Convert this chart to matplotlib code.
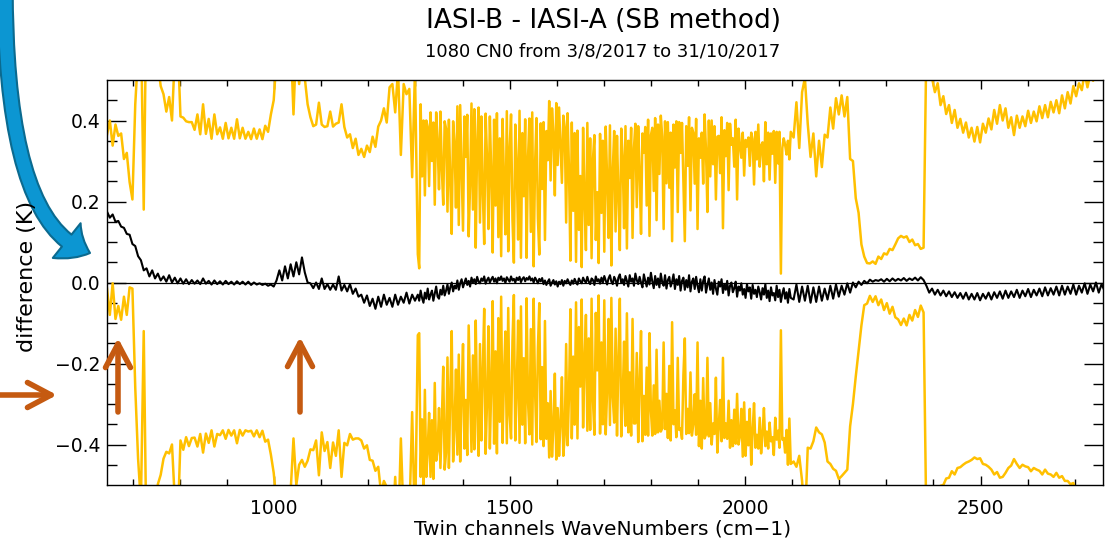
import numpy as np
import matplotlib
matplotlib.use("Agg")
import matplotlib.pyplot as plt
from matplotlib.patches import FancyArrowPatch
from matplotlib.ticker import FuncFormatter

# ========== DATA ==========
# three spectral bands; the noisy water-vapour band is read more finely
band1_start, band1_step = 645, 6     # 645 .. 1299
band2_start, band2_step = 1305, 3    # 1305 .. 2097
band3_start, band3_step = 2103, 6    # 2103 .. 2763

# mean difference IASI-B - IASI-A, in mK
mean1_mK = [
    175, 160, 168, 150, 152, 138, 135, 120, 118, 95,      # 645
    90, 65, 55, 30, 35, 15, 30, 10, 22, 5,                # 705
    15, 2, 18, 0, 12, -2, 10, -3, 8, -4,                  # 765
    6, -3, 5, -4, 10, -3, 4, -5, 5, -4,                   # 825
    3, -5, 4, -4, 2, -5, 3, -4, 2, -5,                    # 885
    2, -6, 0, -5, -2, -6, -3, -8, -5, -10,                # 945
    5, 30, 5, 40, 10, 45, 15, 50, 20, 62,                 # 1005
    25, 0, -2, -14, 0, -16, 10, -16, -4, -18,             # 1065
    -5, -18, 15, -20, -6, -22, -4, -28, -15, -35,         # 1125
    -30, -50, -32, -58, -40, -65, -35, -60, -30, -55,     # 1185
    -38, -60, -30, -55, -35, -50, -25, -52, -30, -45,     # 1245
]
mean2_mK = [
    -30, -45, -20, -38, -50, -25, -40, -15, -42, -30,     # 1305
    -20, -45, -28, -10, -35, -40, -18, -30, -8, -32,      # 1335
    -20, -5, -28, -12, 0, -22, -8, -15, 5, -18,           # 1365
    -2, 8, -12, 0, 10, -6, 4, -10, 12, 0,                 # 1395
    8, -4, 14, 2, -2, 10, 4, 15, -3, 6,                   # 1425
    12, 0, 8, 14, 2, 10, -2, 12, 6, 15,                   # 1455
    4, 10, -1, 13, 7, 2, 15, 5, 9, 0,                     # 1485
    12, 6, 14, 1, 9, 13, 3, 11, 7, 15,                    # 1515
    5, 10, 0, 12, 6, -2, 9, 3, 11, -4,                    # 1545
    5, -6, 2, 8, -8, 0, 6, -5, 3, -10,                    # 1575
    2, -4, 6, -8, 4, -2, 8, 0, -6, 5,                     # 1605
    -3, 9, 1, -5, 10, 3, -2, 12, 4, 0,                    # 1635
    14, 2, -4, 10, 6, -6, 15, 3, 8, -3,                   # 1665
    12, 0, 16, 5, -5, 10, 18, 2, -4, 14,                  # 1695
    6, -8, 12, 20, 0, 8, -6, 16, 4, -10,                  # 1725
    18, 2, 10, -8, 22, 6, -4, 14, 0, -12,                 # 1755
    20, 4, -10, 12, -5, 24, 2, -14, 16, -6,               # 1785
    10, -12, 22, 0, -8, 18, -15, 6, 14, -10,              # 1815
    2, 20, -16, 8, -6, 16, -20, 4, 12, -18,               # 1845
    6, -12, 18, -22, 2, 10, -16, 14, -8, -24,             # 1875
    8, -20, 4, 15, -25, -6, 10, -18, 0, -28,              # 1905
    6, -15, -30, 2, -10, 8, -26, -4, -18, 4,              # 1935
    -32, -8, 0, -24, -14, 2, -35, -10, -20, -2,           # 1965
    -30, -16, -38, -4, -22, -12, -40, -6, -28, -18,       # 1995
    -36, -10, -24, -42, -14, -30, -4, -38, -20, -46,      # 2025
    -12, -32, -26, -44, -8, -36, -18, -48, -28, -14,      # 2055
    -40, -24, -50, -16, -38,                              # 2085
]
mean3_mK = [
    -42, -5, -48, -10, -45, -8, -50,                      # 2103
    -12, -48, -10, -45, -15, -42, -8, -40, -5, -35,       # 2145
    -8, -30, -2, -25, 0, -12, 2, -6, 4, -2,               # 2205
    7, 2, 6, 4, 8, 2, 9, 3, 10, 4,                        # 2265
    9, 5, 11, 4, 10, 6, 12, 5, 13, 6,                     # 2325
    -8, -25, -15, -30, -18, -32, -20, -34, -22, -36,      # 2385
    -24, -38, -26, -40, -25, -42, -28, -42, -26, -44,     # 2445
    -28, -40, -25, -42, -24, -38, -22, -40, -20, -38,     # 2505
    -22, -36, -18, -38, -20, -34, -16, -36, -18, -32,     # 2565
    -15, -34, -12, -32, -14, -30, -10, -32, -8, -30,      # 2625
    -10, -28, -5, -30, -8, -25, -2, -28, -5, -22,         # 2685
    0, -25, -4, -20,                                      # 2745
]

# standard deviation of the difference, in cK
std1_cK = [
    19, 24, 17, 24, 21, 23, 17, 20, 13, 11,   # 645
    35, 50, 60, 15, 70, 65, 70, 60, 52, 48,   # 705
    45, 42, 44, 40, 55, 60, 40, 41, 39, 40,   # 765
    39, 38, 41, 37, 43, 37, 40, 36, 41, 37,   # 825
    38, 36, 39, 36, 38, 36, 40, 36, 38, 36,   # 885
    37, 36, 38, 36, 38, 36, 39, 38, 42, 46,   # 945
    55, 60, 62, 58, 60, 56, 40, 55, 47, 50,   # 1005
    48, 44, 41, 40, 39, 46, 38, 40, 39, 44,   # 1065
    39, 41, 38, 46, 39, 38, 37, 36, 37, 35,   # 1125
    36, 36, 37, 38, 40, 40, 42, 46, 46, 45,   # 1185
    52, 55, 45, 58, 35, 54, 49, 53, 29, 57,   # 1245
]
std2_cK = [
    10, 8, 46, 30, 45, 24, 44, 40, 28, 45,    # 1305
    32, 44, 22, 43, 38, 27, 44, 31, 20, 43,   # 1335
    40, 18, 43, 26, 12, 42, 35, 20, 43, 16,   # 1365
    44, 28, 14, 41, 30, 42, 11, 25, 43, 18,   # 1395
    42, 9, 33, 43, 15, 40, 22, 8, 42, 30,     # 1425
    12, 41, 26, 6, 40, 18, 42, 10, 35, 5,     # 1455
    40, 24, 12, 41, 7, 33, 40, 15, 4, 39,     # 1485
    28, 10, 41, 6, 36, 20, 40, 5, 30, 39,     # 1515
    12, 41, 4, 28, 40, 16, 6, 39, 22, 40,     # 1545
    10, 38, 30, 44, 26, 43, 36, 22, 44, 30,   # 1575
    43, 34, 24, 42, 38, 15, 41, 28, 6, 39,    # 1605
    18, 36, 5, 38, 12, 26, 4, 37, 20, 8,      # 1635
    38, 14, 36, 5, 30, 37, 9, 22, 4, 37,      # 1665
    16, 35, 6, 38, 26, 10, 37, 4, 28, 36,     # 1695
    12, 37, 20, 6, 38, 30, 14, 37, 8, 36,     # 1725
    24, 38, 10, 34, 37, 18, 39, 26, 12, 38,   # 1755
    30, 38, 20, 39, 12, 34, 38, 24, 39, 16,   # 1785
    38, 28, 39, 36, 14, 38, 26, 39, 22, 38,   # 1815
    10, 37, 30, 39, 18, 38, 34, 39, 24, 12,   # 1845
    38, 30, 39, 20, 38, 36, 26, 39, 14, 38,   # 1875
    30, 39, 24, 40, 35, 18, 39, 28, 40, 32,   # 1905
    38, 22, 39, 36, 28, 40, 16, 38, 33, 39,   # 1935
    26, 40, 34, 38, 30, 40, 24, 39, 36, 31,   # 1965
    40, 28, 39, 34, 38, 30, 41, 36, 27, 39,   # 1995
    34, 40, 31, 38, 36, 28, 40, 33, 39, 30,   # 2025
    38, 35, 40, 29, 38, 33, 39, 7, 36, 37,    # 2055
    38, 34, 40, 32, 41,                       # 2085
]
std3_cK = [
    40, 45, 38, 48, 55, 40, 36,               # 2103
    38, 31, 36, 33, 38, 40, 44, 42, 46, 45,   # 2145
    47, 44, 46, 33, 30, 22, 17, 10, 6, 5,     # 2205
    4, 5, 4, 6, 5, 7, 6, 8, 7, 9,             # 2265
    10, 11, 10, 11, 9, 10, 8, 9, 7, 8,        # 2325
    60, 55, 52, 50, 51, 47, 48, 45, 46, 43,   # 2385
    45, 42, 43, 41, 42, 40, 41, 39, 41, 39,   # 2445
    42, 41, 43, 42, 45, 43, 46, 44, 45, 42,   # 2505
    43, 40, 43, 42, 43, 42, 44, 43, 44, 43,   # 2565
    45, 44, 45, 44, 46, 45, 46, 45, 47, 46,   # 2625
    48, 47, 49, 49, 50, 50, 52, 51, 52, 52,   # 2685
    53, 53, 54, 53,                           # 2745
]

y_ticks = [-0.4, -0.2, 0.0, 0.2, 0.4]
x_ticks = [1000, 1500, 2000, 2500]

title = "IASI-B - IASI-A (SB method)"
subtitle = "1080 CN0 from 3/8/2017 to 31/10/2017"

YELLOW = "#FFC000"
ORANGE = "#C55A11"

# ========== PLOT ==========
W, H = 1107, 543
fig = plt.figure(figsize=(W / 100, H / 100), dpi=100)
plt.rcParams["font.family"] = ["DejaVu Sans"]

ax = fig.add_axes([107 / W, 1 - 485 / H, 996 / W, 405 / H])

wn = np.concatenate([
    band1_start + band1_step * np.arange(len(mean1_mK)),
    band2_start + band2_step * np.arange(len(mean2_mK)),
    band3_start + band3_step * np.arange(len(mean3_mK)),
])
mean = np.array(mean1_mK + mean2_mK + mean3_mK) / 1000.0
std = np.array(std1_cK + std2_cK + std3_cK) / 100.0

ax.axhline(0, color="black", lw=0.9, zorder=1)
ax.plot(wn, mean + std, color=YELLOW, lw=1.8, zorder=2)
ax.plot(wn, mean - std, color=YELLOW, lw=1.8, zorder=2)
ax.plot(wn, mean, color="black", lw=1.5, zorder=3)

ax.set_xlim(645, 2760)
ax.set_ylim(-0.5, 0.5)
ax.set_xticks(x_ticks)
ax.set_xticks(np.arange(700, 2760, 100), minor=True)
ax.set_yticks(y_ticks)
ax.set_yticks(np.arange(-0.45, 0.5, 0.05), minor=True)
ax.yaxis.set_major_formatter(FuncFormatter(lambda v, p: f"{v:.1f}".replace("-", "\u2212")))

for s in ax.spines.values():
    s.set_linewidth(1.0)
ax.tick_params(axis="both", which="both", direction="in", top=True, right=True,
               width=1.0, labelsize=13.5, colors="black")
ax.tick_params(axis="y", which="major", length=14, pad=5)
ax.tick_params(axis="y", which="minor", length=7)
ax.tick_params(axis="x", which="major", length=6.5, pad=10)
ax.tick_params(axis="x", which="minor", length=4.3)

fig.text(603 / W, 1 - 28 / H, title, ha="center", va="baseline", fontsize=19)
fig.text(603 / W, 1 - 57 / H, subtitle, ha="center", va="baseline", fontsize=13)
fig.text(603 / W, 1 - 529 / H, "Twin channels WaveNumbers (cm\u22121)",
         ha="center", va="center", fontsize=14.5)
fig.text(27 / W, 1 - 276 / H, "difference (K)", ha="center", va="center",
         rotation=90, fontsize=16)

# ========== ANNOTATION ARROWS ==========
blue = FancyArrowPatch((5 / W, 1 + 15 / H), (90 / W, 1 - 253 / H),
                       transform=fig.transFigure,
                       connectionstyle="angle3,angleA=90,angleB=-17",
                       arrowstyle="simple,head_length=1.9,head_width=3.2,tail_width=1.1",
                       mutation_scale=10, shrinkA=0, shrinkB=0,
                       fc="#0C96D2", ec="#0B6A8F", lw=1.5)
fig.add_artist(blue)

arrow_kw = dict(arrowstyle="->,head_length=0.85,head_width=0.45",
                color=ORANGE, lw=4, mutation_scale=20,
                shrinkA=0, shrinkB=0, capstyle="round", joinstyle="round")
for tail, tip in [((0, 395), (57, 395)), ((118, 412), (118, 338)),
                  ((300, 412), (300, 337))]:
    fig.add_artist(matplotlib.text.Annotation(
        "", xy=(tip[0], H - tip[1]), xytext=(tail[0], H - tail[1]),
        xycoords="figure pixels", textcoords="figure pixels",
        arrowprops=arrow_kw))

fig.savefig("out.png", dpi=100)
